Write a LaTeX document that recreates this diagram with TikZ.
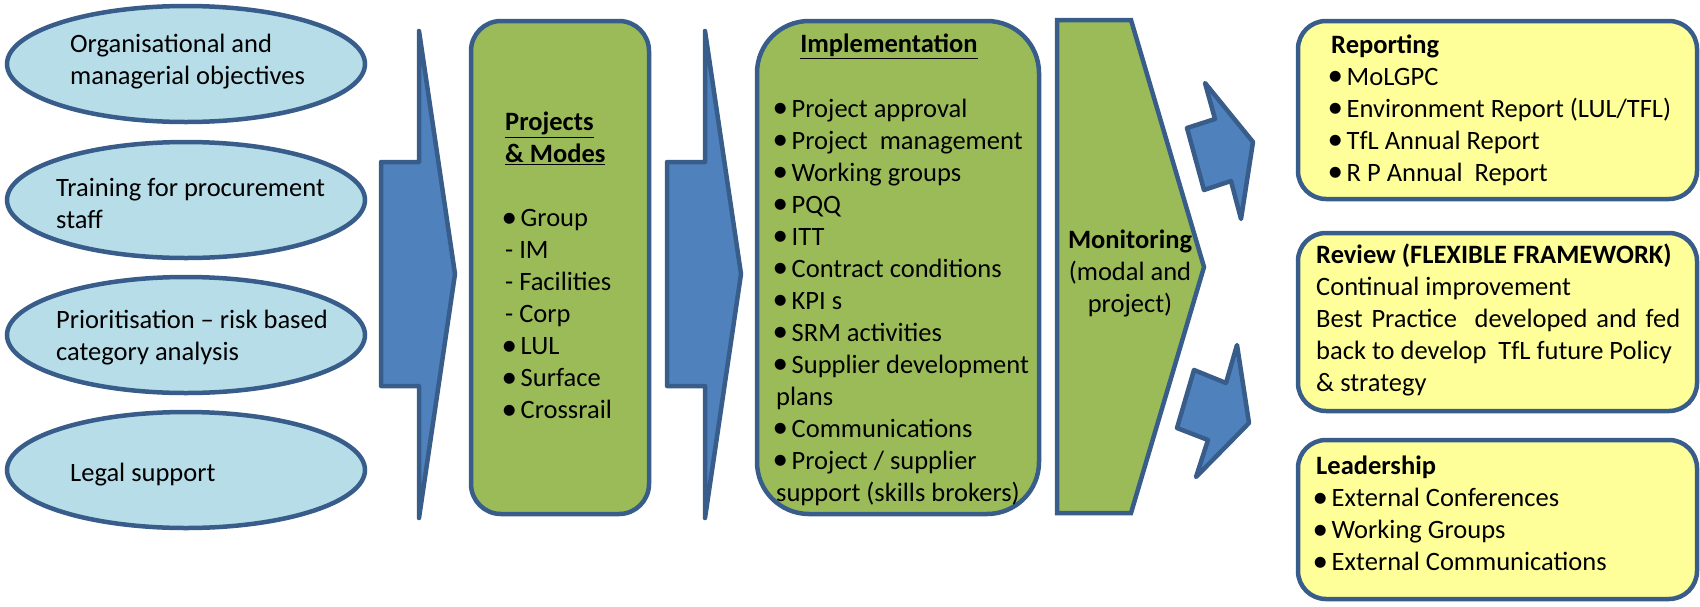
\documentclass[tikz,border=0pt]{standalone}
\usepackage{fontspec}
\setmainfont{Carlito}
\usetikzlibrary{shapes.geometric}

\definecolor{edgeblue}{HTML}{385D8A}
\definecolor{ovalfill}{HTML}{B7DEE8}
\definecolor{arrowfill}{HTML}{4F81BD}
\definecolor{greenfill}{HTML}{9BBB59}
\definecolor{yellowfill}{HTML}{FFFF99}

\newcommand{\bul}{\makebox[15.5pt][l]{\hspace{-3.5pt}\raisebox{-0.8pt}{\fontsize{31}{32}\selectfont\textbullet}}}

\tikzset{
	oval/.style={shape=ellipse, draw=edgeblue, fill=ovalfill, line width=4.5pt, minimum width=358pt, minimum height=116pt, inner sep=0pt},
	greenbox/.style={shape=rectangle, draw=edgeblue, fill=greenfill, line width=4.5pt, inner sep=0pt},
	yellowbox/.style={shape=rectangle, draw=edgeblue, fill=yellowfill, line width=4.5pt, inner sep=0pt, rounded corners=28pt, minimum width=399pt},
	bigarrow/.style={draw=edgeblue, fill=arrowfill, line width=4.5pt, line join=round},
	txt/.style={anchor=west, align=left, inner sep=0pt}
}

\begin{document}
\begin{tikzpicture}[x=1pt, y=-1pt, font=\fontsize{26.5}{32}\selectfont]
	\useasboundingbox (0,0) rectangle (1700,606);
	
	\node[oval] (org)   at (186,64)  {};
	\node[oval] (train) at (186,200) {};
	\node[oval] (prio)  at (186,335) {};
	\node[oval] (legal) at (186,470) {};
	
	\node[txt] (orgtxt)   at (70,62)  {Organisational and\\managerial objectives};
	\node[txt] (traintxt) at (56,203) {Training for procurement\\staff};
	\node[txt] (priotxt)  at (56,338) {Prioritisation -- risk based\\category analysis};
	\node[txt] (legaltxt) at (70,475) {Legal support};
	
	\draw[bigarrow] (381,162) -- (419,162) -- (419,31) -- (455,274) -- (419,518) -- (419,386) -- (381,386) -- cycle;
	\draw[bigarrow] (667,162) -- (705,162) -- (705,31) -- (741,274) -- (705,518) -- (705,386) -- (667,386) -- cycle;
	
	\node[greenbox, rounded corners=30pt, minimum width=178pt, minimum height=493pt] (proj) at (560,267.5) {};
	\node[txt] (projtxt) at (505,266) {\textbf{\underline{Projects}}\\\textbf{\underline{\& Modes}}\\[32pt]\bul Group\\- IM\\- Facilities\\- Corp\\\bul LUL\\\bul Surface\\\bul Crossrail};
	
	\node[greenbox, rounded corners=52pt, minimum width=282pt, minimum height=493pt] (impl) at (898,267.5) {};
	\node (impltitle) at (889,46) {\textbf{\underline{Implementation}}};
	\node[txt] (impltxt) at (776,302) {\bul Project approval\\\bul Project~ management\\\bul Working groups\\\bul PQQ\\\bul ITT\\\bul Contract conditions\\\bul KPI s\\\bul SRM activities\\\bul Supplier development\\plans\\\bul Communications\\\bul Project / supplier\\support (skills brokers)};
	
	\draw[greenbox] (1057,20) -- (1131,20) -- (1204,267) -- (1131,513) -- (1057,513) -- cycle;
	\node[align=center, inner sep=0pt] (montxt) at (1130,273) {\textbf{Monitoring}\\(modal and\\project)};
	
	\draw[bigarrow] (1253,142) -- (1205,83) -- (1215,119) -- (1187,128) -- (1204,190) -- (1231,181) -- (1241,219) -- cycle;
	\draw[bigarrow] (1249,423) -- (1237,345) -- (1226,383) -- (1194,370) -- (1177,428) -- (1208,440) -- (1196,477) -- cycle;
	
	\node[yellowbox, minimum height=178pt] (report) at (1497.5,110) {};
	\node[txt] (reporttxt) at (1331,110) {\textbf{Reporting}\\\bul MoLGPC\\\bul Environment Report (LUL/TFL)\\\bul TfL Annual Report\\\bul R P Annual~ Report};
	
	\node[yellowbox, minimum height=178pt] (review) at (1497.5,322) {};
	\node[txt] (reviewtxt) at (1316,320) {\textbf{Review (FLEXIBLE FRAMEWORK)}\\Continual improvement\\\makebox[364pt][s]{Best Practice~ developed and fed}\\back to develop~ TfL future Policy\\\& strategy};
	
	\node[yellowbox, minimum height=159pt] (lead) at (1497.5,519.5) {};
	\node[txt] (leadtxt) at (1316,513.5) {\textbf{Leadership}\\\bul External Conferences\\\bul Working Groups\\\bul External Communications};
	
\end{tikzpicture}
\end{document}
